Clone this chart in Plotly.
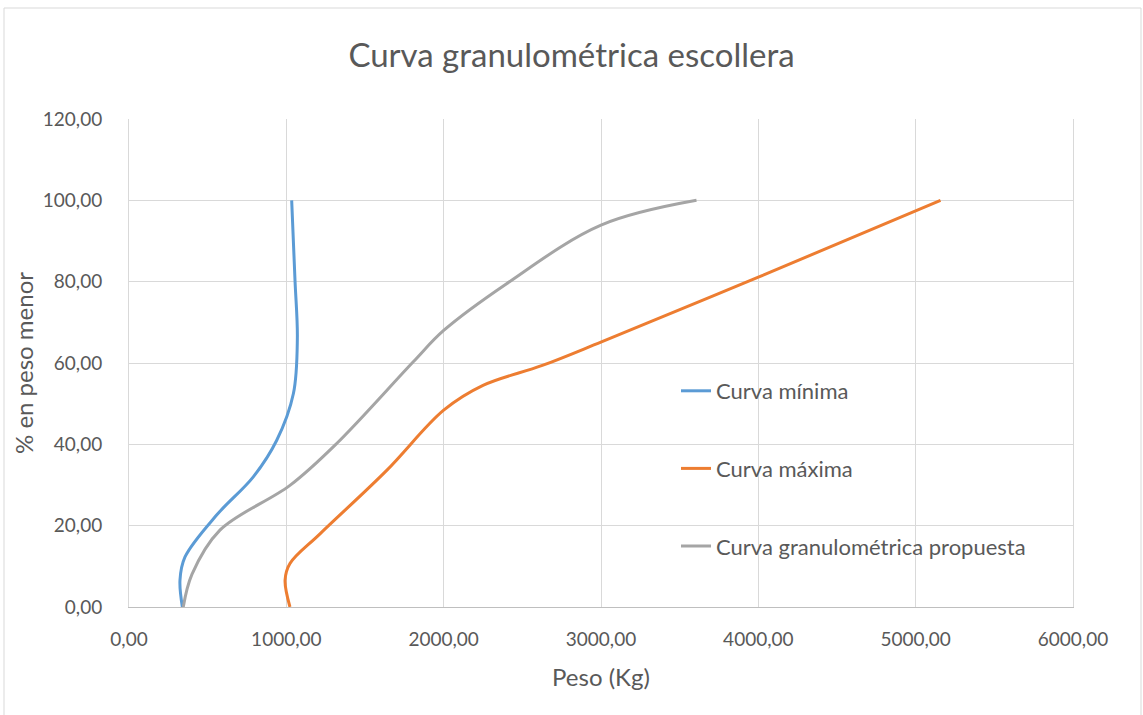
import plotly.graph_objects as go

# Data (Peso in Kg, % en peso menor)
min_peso = [339, 324, 356, 557, 790, 939, 1045, 1070, 1055, 1034]
min_pct = [0, 6.6, 12.3, 22.6, 32, 41, 52.5, 66, 80.4, 100]

max_peso = [1023, 992, 1023, 1214, 1638, 2000, 2250, 2627, 3003, 4000, 5158]
max_pct = [0, 6.6, 10.7, 18, 33.6, 48.4, 54.5, 59.4, 65.2, 81.1, 100]

prop_peso = [345, 400, 578, 1023, 1320, 1807, 2000, 2400, 3000, 3607]
prop_pct = [0, 8, 18.9, 29.9, 40.2, 60.3, 68, 79.5, 93.9, 100]

names = ["Curva mínima", "Curva máxima", "Curva granulométrica propuesta"]
colors = ["#5B9BD5", "#ED7D31", "#A5A5A5"]

x_ticks = [0, 1000, 2000, 3000, 4000, 5000, 6000]
y_ticks = [0, 20, 40, 60, 80, 100, 120]

W, H = 1143, 715
ml, mr, mt, mb = 129, 70, 119, 108
pw, ph = W - ml - mr, H - mt - mb

fig = go.Figure()
for i, (xs, ys) in enumerate([(min_peso, min_pct), (max_peso, max_pct), (prop_peso, prop_pct)]):
    fig.add_trace(go.Scatter(
        x=xs, y=ys, mode="lines", name=names[i], legendgroup=str(i),
        line=dict(color=colors[i], width=3, shape="spline", smoothing=1.0),
    ))

font_family = "Lato, 'Open Sans', sans-serif"
txt = "#595959"

fig.update_layout(
    width=W, height=H,
    margin=dict(l=ml, r=mr, t=mt, b=mb),
    paper_bgcolor="white", plot_bgcolor="white",
    separators=",.",
    font=dict(family=font_family, color=txt, size=19),
    title=dict(text="Curva granulométrica escollera", x=0.5, xanchor="center",
               y=1 - 55 / H, yanchor="middle",
               font=dict(size=33, color=txt, family=font_family)),
    xaxis=dict(range=[0, 6000], tickvals=x_ticks, tickformat=".2f",
               showgrid=True, gridcolor="#D9D9D9", gridwidth=1,
               showline=True, linecolor="#BFBFBF", linewidth=1,
               zeroline=False, ticks="", ticklen=0, ticklabelstandoff=15,
               title=dict(text="Peso (Kg)", font=dict(size=24, color=txt), standoff=20),
               tickfont=dict(size=19, color=txt)),
    yaxis=dict(range=[0, 120], tickvals=y_ticks, tickformat=".2f",
               showgrid=True, gridcolor="#D9D9D9", gridwidth=1,
               showline=True, linecolor="#D9D9D9", linewidth=1, mirror=True,
               zeroline=False, ticks="", ticklen=0, ticklabelstandoff=22,
               title=dict(text="% en peso menor", font=dict(size=24, color=txt), standoff=2),
               tickfont=dict(size=19, color=txt)),
    legend=dict(x=(676 - ml) / pw, y=(H - mb - 370) / ph, xanchor="left", yanchor="top",
                bgcolor="rgba(0,0,0,0)", tracegroupgap=46, traceorder="grouped",
                font=dict(size=22, color=txt, family=font_family)),
    shapes=[dict(type="rect", xref="paper", yref="paper",
                 x0=(4 - ml) / pw, x1=(1141 - ml) / pw,
                 y0=-(mb + 5) / ph, y1=(H - mb - 8) / ph,
                 line=dict(color="#D9D9D9", width=1), fillcolor="rgba(0,0,0,0)",
                 layer="below")],
)

fig.write_html("out.html", config={"displayModeBar": False},
               post_script="document.body.style.margin='0';document.body.style.overflow='hidden';")
